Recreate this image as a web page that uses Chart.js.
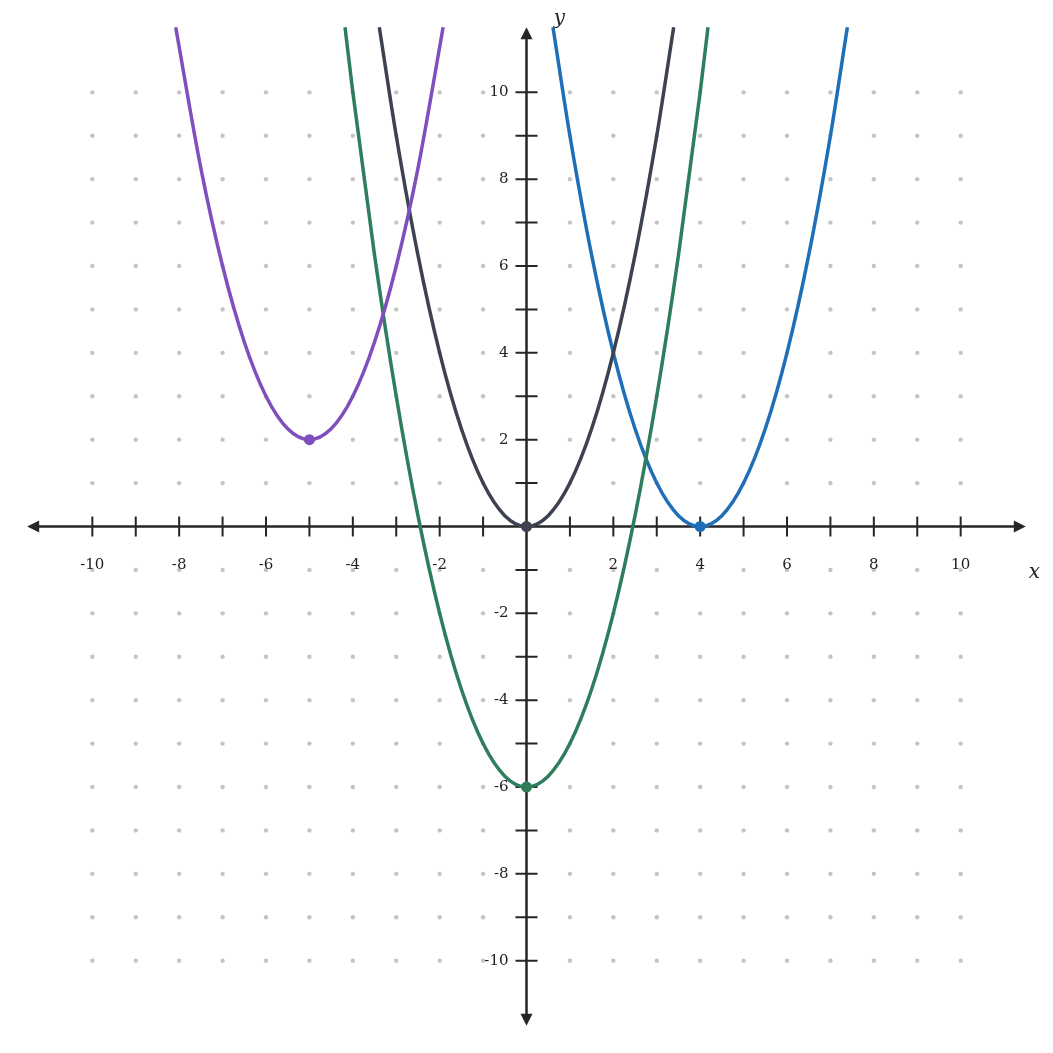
<!DOCTYPE html>
<html>
<head>
<meta charset="utf-8">
<script src="https://cdn.jsdelivr.net/npm/chart.js@4"></script>
<style>
html,body{margin:0;padding:0;background:#fff;}
#wrap{width:1053px;height:1053px;}
</style>
</head>
<body>
<div id="wrap"><canvas id="c" width="1053" height="1053"></canvas></div>
<script>
// Axis ticks
const tickValues = [-10,-9,-8,-7,-6,-5,-4,-3,-2,-1,1,2,3,4,5,6,7,8,9,10];
const xTickLabels = ["-10","-8","-6","-4","-2","2","4","6","8","10"];
const yTickLabels = ["-10","-8","-6","-4","-2","2","4","6","8","10"];

// Purple curve
const purpleX = [-8.08,-7.5,-7,-6.5,-6,-5.5,-5,-4.5,-4,-3.5,-3,-2.5,-1.92];
const purpleY = [11.5,8.25,6,4.25,3,2.25,2,2.25,3,4.25,6,8.25,11.5];
// Dark curve
const darkX = [-3.39,-3,-2.5,-2,-1.5,-1,-0.5,0,0.5,1,1.5,2,2.5,3,3.39];
const darkY = [11.5,9,6.25,4,2.25,1,0.25,0,0.25,1,2.25,4,6.25,9,11.5];
// Green curve
const greenX = [-4.18,-4,-3.5,-3,-2.5,-2,-1.5,-1,-0.5,0,0.5,1,1.5,2,2.5,3,3.5,4,4.18];
const greenY = [11.5,10,6.25,3,0.25,-2,-3.75,-5,-5.75,-6,-5.75,-5,-3.75,-2,0.25,3,6.25,10,11.5];
// Blue curve
const blueX = [0.61,1,1.5,2,2.5,3,3.5,4,4.5,5,5.5,6,6.5,7,7.39];
const blueY = [11.5,9,6.25,4,2.25,1,0.25,0,0.25,1,2.25,4,6.25,9,11.5];
// Vertices
const vertexX = [-5,0,0,4];
const vertexY = [2,0,-6,0];

const colors = ['#7e4fbd','#3d4250','#2e7d5b','#1f6fb8'];
const vertexColors = ['#7e4fbd','#3d4250','#2e7d5b','#1f6fb8'];

function pts(xs, ys){ return xs.map((x,i)=>({x:x,y:ys[i]})); }

const AXMAX = 11.5;

const axesPlugin = {
  id:'axesPlugin',
  beforeDatasetsDraw(chart){
    const ctx = chart.ctx;
    const xs = chart.scales.x, ys = chart.scales.y;
    const X = v => xs.getPixelForValue(v);
    const Y = v => ys.getPixelForValue(v);
    const ox = X(0), oy = Y(0);
    ctx.save();
    // grid dots
    ctx.fillStyle = '#c4c4c4';
    for (const gx of tickValues){
      for (const gy of tickValues){
        ctx.beginPath();
        ctx.arc(X(gx), Y(gy), 2.2, 0, Math.PI*2);
        ctx.fill();
      }
    }
    // axes
    ctx.strokeStyle = '#262626';
    ctx.fillStyle = '#262626';
    ctx.lineWidth = 2.5;
    ctx.beginPath();
    ctx.moveTo(X(-AXMAX)+8, oy); ctx.lineTo(X(AXMAX)-8, oy);
    ctx.moveTo(ox, Y(AXMAX)+8); ctx.lineTo(ox, Y(-AXMAX)-8);
    ctx.stroke();
    // arrowheads
    const L = 12, W = 6;
    const arrow = (tx,ty,dx,dy)=>{
      ctx.beginPath();
      ctx.moveTo(tx,ty);
      ctx.lineTo(tx-dx*L - dy*W, ty-dy*L - dx*W);
      ctx.lineTo(tx-dx*L + dy*W, ty-dy*L + dx*W);
      ctx.closePath(); ctx.fill();
    };
    arrow(X(AXMAX), oy, 1, 0);
    arrow(X(-AXMAX), oy, -1, 0);
    arrow(ox, Y(AXMAX), 0, -1);
    arrow(ox, Y(-AXMAX), 0, 1);
    // ticks
    ctx.lineWidth = 2;
    ctx.beginPath();
    for (const t of tickValues){
      ctx.moveTo(X(t), oy-10); ctx.lineTo(X(t), oy+10);
      ctx.moveTo(ox-11, Y(t)); ctx.lineTo(ox+11, Y(t));
    }
    ctx.stroke();
    // labels
    ctx.fillStyle = '#222';
    ctx.font = '15px "DejaVu Serif"';
    ctx.textAlign = 'center'; ctx.textBaseline = 'middle';
    for (const s of xTickLabels){
      ctx.fillText(s, X(Number(s)), oy+39);
    }
    ctx.textAlign = 'right';
    for (const s of yTickLabels){
      ctx.fillText(s, ox-18, Y(Number(s)));
    }
    ctx.font = 'italic 20px "DejaVu Serif"';
    ctx.textAlign = 'center';
    ctx.fillText('x', X(11.7), oy+46);
    ctx.fillText('y', ox+33, Y(11.7));
    ctx.restore();
  }
};

const lineDs = (xs, ys, c) => ({
  type:'line',
  data: pts(xs, ys),
  borderColor: c,
  borderWidth: 3.5,
  pointRadius: 0,
  fill: false,
  cubicInterpolationMode: 'monotone',
  showLine: true,
  clip: false
});

new Chart(document.getElementById('c'), {
  type:'scatter',
  data:{
    datasets:[
      lineDs(purpleX, purpleY, colors[0]),
      lineDs(darkX, darkY, colors[1]),
      lineDs(greenX, greenY, colors[2]),
      lineDs(blueX, blueY, colors[3]),
      {
        type:'scatter',
        data: pts(vertexX, vertexY),
        pointRadius: 5.5,
        pointBackgroundColor: vertexColors,
        pointBorderWidth: 0,
        clip: false
      }
    ]
  },
  options:{
    responsive:false,
    animation:false,
    layout:{padding:0},
    plugins:{legend:{display:false}, tooltip:{enabled:false}},
    scales:{
      x:{type:'linear', min:-12, max:12, display:false},
      y:{type:'linear', min:-12, max:12, display:false}
    }
  },
  plugins:[axesPlugin]
});
</script>
</body>
</html>
